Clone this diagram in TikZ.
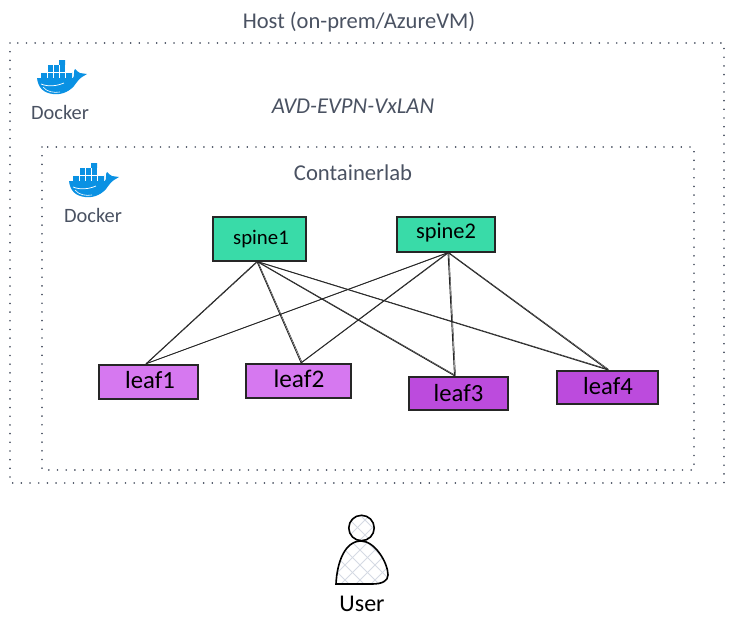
\documentclass[tikz,border=0pt]{standalone}
\usepackage{fontspec}
\setmainfont{Carlito}
\definecolor{spinefill}{HTML}{39DBA8}
\definecolor{leafa}{HTML}{D678F0}
\definecolor{leafb}{HTML}{BC4BDD}
\definecolor{inkgrey}{HTML}{4A5262}
\definecolor{dockblue}{HTML}{0A91E3}
\definecolor{hatchc}{HTML}{D5DAE3}
\tikzset{
  x=0.75pt,y=-0.75pt,
  frame/.style={draw=inkgrey,line width=1.3pt,line cap=round,dash pattern=on 0.01pt off 6.5pt},
  box/.style={draw=black!85,line width=0.85pt,inner sep=0pt},
  lbl/.style={inner sep=0pt,text=black,font=\fontsize{#1}{16}\selectfont},
  link/.style={draw=black!85,line width=0.65pt},
  greytext/.style={text=inkgrey,inner sep=0pt,font=\fontsize{#1}{16}\selectfont},
  person/.style={draw=black,line width=1.2pt},
  hatchline/.style={draw=hatchc,line width=0.7pt},
  docker/.pic={
    \fill[dockblue] (-21,-3) -- (-21,-10) -- (-15,-10) -- (-15,-17) -- (-3,-17) -- (-3,-22) -- (3,-22)
      -- (3,-10) -- (10,-10) -- (10,-3) -- cycle;
    \foreach \xx in {-15,-9,-3,3}{\draw[white,line width=0.3pt] (\xx,-17) -- (\xx,-3);}
    \draw[white,line width=0.3pt] (-21,-10) -- (10,-10);
    \fill[dockblue] (-25,-4) -- (11,-4) .. controls (13,-6) and (11,-11) .. (13,-13)
      .. controls (15,-12) and (16,-9) .. (18,-9)
      -- (25,-8) -- (20,-5)
      .. controls (17,-3) and (15,0) .. (12,4)
      .. controls (6,11) and (-3,13) .. (-9,12)
      .. controls (-18,11) and (-24,6) .. (-25,-4) -- cycle;
    \draw[white,line width=0.55pt] (-21,2) .. controls (-14,5) and (-5,4) .. (2,1);
    \draw[white,line width=0.45pt] (-19,5) .. controls (-15,10) and (-8,11) .. (-2,10);
  }
}
\begin{document}
\begin{tikzpicture}
\useasboundingbox (0,0) rectangle (734,629);
% frames
\draw[frame] (10,43) rectangle (724,483);
\draw[frame] (42,147) rectangle (694,470);
% titles
\node[greytext=16.9] (host) at (359,22) {Host (on-prem/AzureVM)};
\node[greytext=17] (avd) at (353,106) {\textit{AVD-EVPN-VxLAN}};
\node[greytext=17] (clab) at (353,173) {Containerlab};
% docker logos
\pic at (62,82) {docker};
\node[greytext=15.3] (d1) at (60,112) {Docker};
\pic at (94,185) {docker};
\node[greytext=15.3] (d2) at (93,215) {Docker};
% boxes
\node[box,fill=spinefill,minimum width=69.75pt,minimum height=33pt] (spine1) at (259.5,239) {};
\node[box,fill=spinefill,minimum width=73.5pt,minimum height=26.25pt] (spine2) at (446,234.5) {};
\node[box,fill=leafa,minimum width=74.25pt,minimum height=25.5pt] (leaf1) at (148.5,382) {};
\node[box,fill=leafa,minimum width=78.75pt,minimum height=25.5pt] (leaf2) at (298.5,381) {};
\node[box,fill=leafb,minimum width=74.25pt,minimum height=24.75pt] (leaf3) at (458.5,393.5) {};
\node[box,fill=leafb,minimum width=75.75pt,minimum height=24.75pt] (leaf4) at (607.5,387.5) {};
\node[lbl=15.6] at (261,239) {spine1};
\node[lbl=16.8] at (446,233) {spine2};
\node[lbl=18.5] at (150,380) {leaf1};
\node[lbl=19] at (299,378.5) {leaf2};
\node[lbl=18.5] at (458.5,393) {leaf3};
\node[lbl=18.5] at (608,386.5) {leaf4};
% links
\coordinate (sa) at ([xshift=-1.9pt]spine1.south);
\coordinate (sb) at ([xshift=1.5pt]spine2.south);
\coordinate (la) at ([xshift=-1.9pt,yshift=0.5pt]leaf1.north);
\coordinate (lb) at ([xshift=1.9pt,yshift=0.5pt]leaf2.north);
\coordinate (lc) at ([xshift=-3pt,yshift=0.5pt]leaf3.north);
\coordinate (ld) at ([yshift=0.5pt]leaf4.north);
\foreach \s/\e in {sa/la,sa/lb,sa/lc,sa/ld,sb/la,sb/lb,sb/lc,sb/ld}{
  \draw[link] (\s) -- (\e);
  \draw[link,line width=0.35pt] ([xshift=0.7pt]\s) -- ([xshift=0.8pt,yshift=0.3pt]\e);
}
% user
\begin{scope}
  \clip (361.5,528) circle[radius=12.7];
  \foreach \k in {-4,...,4}{
    \draw[hatchline] (330+\k*15,500) -- (400+\k*15,570);
    \draw[hatchline] (330+\k*15,570) -- (400+\k*15,500);
  }
\end{scope}
\begin{scope}
  \clip (336,584)
  .. controls (337,562) and (345,541) .. (361,541)
  .. controls (375,541) and (388,563) .. (388,575)
  .. controls (388,581) and (382,584) .. (372,584) -- cycle;
  \foreach \k in {-5,...,5}{
    \draw[hatchline] (320+\k*15,525) -- (400+\k*15,605);
    \draw[hatchline] (320+\k*15,605) -- (400+\k*15,525);
  }
\end{scope}
\draw[person] (361.5,528) circle[radius=12.7];
\draw[person] (336,584)
  .. controls (337,562) and (345,541) .. (361,541)
  .. controls (375,541) and (388,563) .. (388,575)
  .. controls (388,581) and (382,584) .. (372,584) -- cycle;
\node[lbl=18] (user) at (362,604) {User};
\end{tikzpicture}
\end{document}
